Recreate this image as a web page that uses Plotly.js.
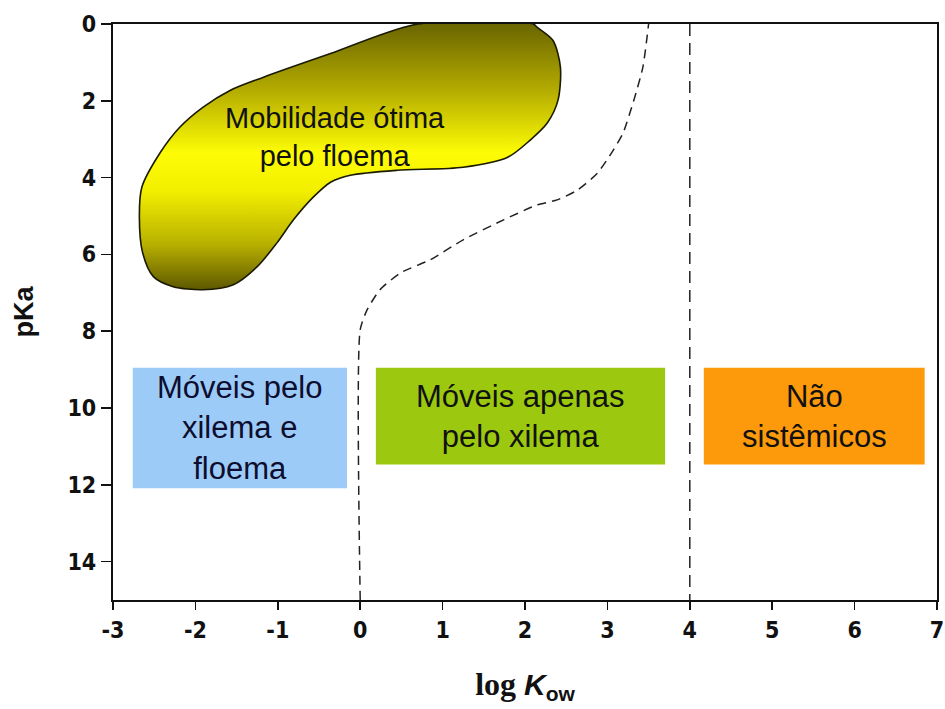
<!DOCTYPE html>
<html>
<head>
<meta charset="utf-8">
<script src="https://cdn.plot.ly/plotly-3.0.1.min.js"></script>
<style>html,body{margin:0;padding:0;background:#fff;}</style>
</head>
<body>
<div id="chart" style="width:945px;height:709px;"></div>
<script>
// Blob outline: "Mobilidade ótima pelo floema" region (log Kow, pKa)
var blobX = [0.7, 2.1, 2.15, 2.34, 2.43, 2.40, 2.27, 2.06, 1.79, 1.25, 0.45, -0.12, -0.36, -0.57, -0.81, -1.01, -1.25, -1.54, -1.91, -2.27, -2.51, -2.64, -2.68, -2.65, -2.43, -2.19, -1.91, -1.58, -1.18, -0.36, 0.7];
var blobY = [0.0, 0.0, 0.09, 0.43, 1.13, 1.99, 2.58, 3.03, 3.47, 3.73, 3.81, 3.94, 4.12, 4.51, 5.10, 5.70, 6.32, 6.79, 6.92, 6.84, 6.58, 5.96, 5.03, 4.25, 3.36, 2.69, 2.17, 1.73, 1.39, 0.77, 0.0];

// S-shaped dashed boundary
var curveX = [0, 0, 0.085, 0.24, 0.49, 0.85, 1.25, 1.74, 2.15, 2.39, 2.64, 2.88, 3.07, 3.19, 3.32, 3.43, 3.50];
var curveY = [15, 7.96, 7.44, 6.92, 6.48, 6.14, 5.62, 5.10, 4.71, 4.58, 4.32, 3.88, 3.29, 2.84, 1.99, 1.13, 0.0];

// Vertical dashed line at log Kow = 4
var vlineX = [4, 4];
var vlineY = [0, 15];

// Category boxes
var boxLabels = ["Móveis pelo<br>xilema e<br>floema", "Móveis apenas<br>pelo xilema", "Não<br>sistêmicos"];
var boxX0 = [-2.76, 0.19, 4.17];
var boxX1 = [-0.16, 3.70, 6.85];
var boxY0 = [8.95, 8.95, 8.95];
var boxY1 = [12.09, 11.47, 11.47];
var boxColors = ["#9dcbf8", "#9cc90f", "#fd9a0b"];
var boxTextColors = ["#0d0d2e", "#111111", "#111111"];

var blobLabel = "Mobilidade ótima<br>pelo floema";
var blobLabelX = -0.30, blobLabelY = 2.95;

var xTicks = [-3, -2, -1, 0, 1, 2, 3, 4, 5, 6, 7];
var yTicks = [0, 2, 4, 6, 8, 10, 12, 14];

var tickFont = {family: "'Liberation Sans Narrow', 'Arial Narrow', 'DejaVu Sans Condensed', sans-serif", size: 23, color: "#111", weight: "bold"};

var traces = [
  {
    x: blobX, y: blobY, mode: "lines", type: "scatter",
    line: {color: "#1a1a00", width: 1.6, shape: "spline", smoothing: 0.8},
    fill: "toself",
    fillgradient: {type: "vertical", start: 0, stop: 7,
      colorscale: [[0, "#6a6500"], [0.25, "#b5ad00"], [0.48, "#fdfc05"], [0.62, "#f3ef00"], [0.82, "#b8b000"], [1, "#575100"]]},
    hoverinfo: "skip", showlegend: false
  },
  {
    x: curveX, y: curveY, mode: "lines", type: "scatter",
    line: {color: "#222", width: 1.5, dash: "9px,6px", shape: "spline", smoothing: 0.6},
    hoverinfo: "skip", showlegend: false
  },
  {
    x: vlineX, y: vlineY, mode: "lines", type: "scatter",
    line: {color: "#222", width: 1.5, dash: "12px,7px"},
    hoverinfo: "skip", showlegend: false
  }
];

var shapes = [];
var annotations = [];
for (var i = 0; i < boxLabels.length; i++) {
  shapes.push({type: "rect", xref: "x", yref: "y", x0: boxX0[i], x1: boxX1[i], y0: boxY0[i], y1: boxY1[i],
    fillcolor: boxColors[i], line: {width: 0}, layer: "above"});
  annotations.push({xref: "x", yref: "y", x: (boxX0[i] + boxX1[i]) / 2, y: (boxY0[i] + boxY1[i]) / 2,
    text: boxLabels[i], showarrow: false, align: "center",
    font: {family: "'Liberation Sans', Arial, sans-serif", size: 31, color: boxTextColors[i]}});
}
annotations.push({xref: "x", yref: "y", x: blobLabelX, y: blobLabelY, text: blobLabel, showarrow: false, align: "center",
  font: {family: "'Liberation Sans', Arial, sans-serif", size: 29, color: "#111"}});

var layout = {
  width: 945, height: 709,
  margin: {l: 113, r: 8, t: 24, b: 109},
  paper_bgcolor: "#fff", plot_bgcolor: "#fff",
  showlegend: false,
  xaxis: {
    range: [-3, 7], tickvals: xTicks, ticktext: xTicks.map(String),
    showgrid: false, zeroline: false,
    showline: true, linecolor: "#111", linewidth: 2.2, mirror: true,
    ticks: "outside", ticklen: 8, tickwidth: 1.5, tickcolor: "#111",
    tickfont: tickFont,
    title: {text: "<span style='font-family:Liberation Serif,Times New Roman,serif;font-size:32px'><b>log </b></span><b><i>K</i></b><sub><b>ow</b></sub>",
      font: {family: "'Liberation Sans', Arial, sans-serif", size: 30, color: "#111"}, standoff: 32}
  },
  yaxis: {
    range: [15, 0], tickvals: yTicks, ticktext: yTicks.map(String),
    showgrid: false, zeroline: false,
    showline: true, linecolor: "#111", linewidth: 2.2, mirror: true,
    ticks: "outside", ticklen: 10, tickwidth: 1.5, tickcolor: "#111",
    tickfont: tickFont,
    title: {text: "<b>pKa</b>", font: {family: "'Liberation Sans', Arial, sans-serif", size: 27, color: "#111"}, standoff: 26}
  },
  shapes: shapes,
  annotations: annotations
};

Plotly.newPlot("chart", traces, layout, {displayModeBar: false, staticPlot: true});
</script>
</body>
</html>
